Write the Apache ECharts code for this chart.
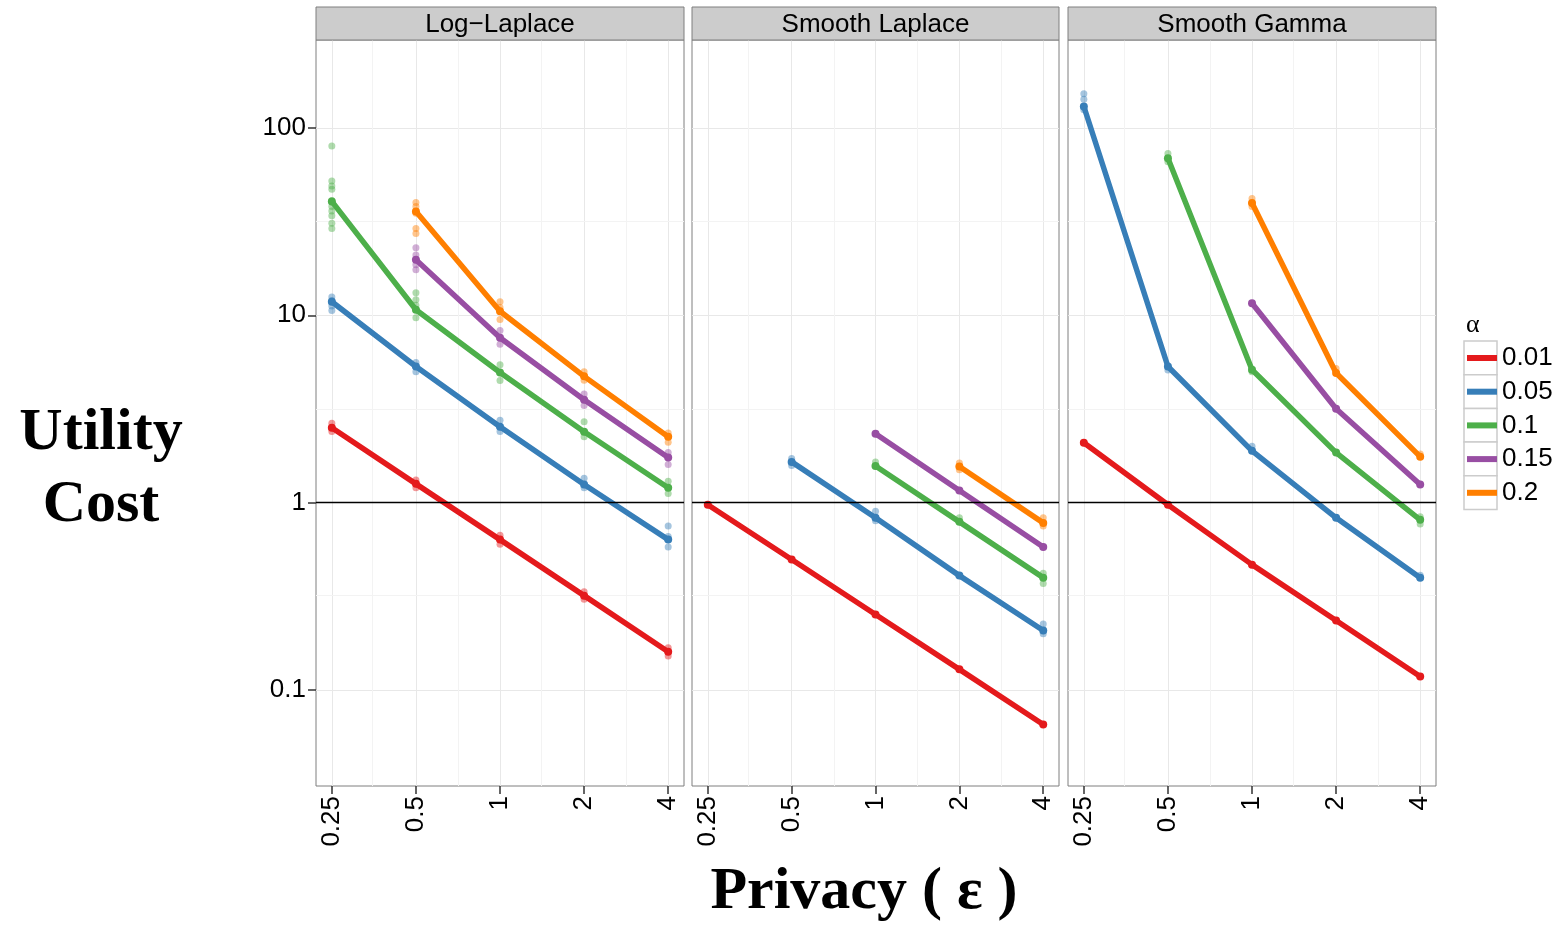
<!DOCTYPE html>
<html>
<head>
<meta charset="utf-8">
<script src="https://cdn.jsdelivr.net/npm/echarts@6/dist/echarts.min.js"></script>
<style>html,body{margin:0;padding:0;background:#fff}#c{width:1564px;height:925px}</style>
</head>
<body>
<div id="c"></div>
<script>
// ---------- data ----------
const epsilons = [0.25, 0.5, 1, 2, 4];
const alphas = ['0.01', '0.05', '0.1', '0.15', '0.2'];
const facets = ['Log\u2212Laplace', 'Smooth Laplace', 'Smooth Gamma'];
const yTicks = [0.1, 1, 10, 100];
const yMinor = [0.0316, 0.316, 3.16, 31.6];
const xMinor = [0.354, 0.707, 1.414, 2.828];

// Log-Laplace (mean utility cost per epsilon)
const logLaplace_a001 = [2.51, 1.26, 0.635, 0.319, 0.160];
const logLaplace_a005 = [11.8, 5.33, 2.54, 1.25, 0.635];
const logLaplace_a01  = [40.5, 10.7, 4.95, 2.39, 1.20];
const logLaplace_a015 = [null, 19.8, 7.59, 3.54, 1.74];
const logLaplace_a02  = [null, 35.8, 10.5, 4.72, 2.25];
// Smooth Laplace
const smoothLaplace_a001 = [0.975, 0.497, 0.253, 0.129, 0.0655];
const smoothLaplace_a005 = [null, 1.65, 0.83, 0.408, 0.208];
const smoothLaplace_a01  = [null, null, 1.57, 0.79, 0.398];
const smoothLaplace_a015 = [null, null, 2.33, 1.16, 0.58];
const smoothLaplace_a02  = [null, null, null, 1.56, 0.78];
// Smooth Gamma
const smoothGamma_a001 = [2.09, 0.975, 0.467, 0.235, 0.118];
const smoothGamma_a005 = [130, 5.33, 1.89, 0.83, 0.398];
const smoothGamma_a01  = [null, 68.9, 5.12, 1.85, 0.81];
const smoothGamma_a015 = [null, null, 11.6, 3.17, 1.25];
const smoothGamma_a02  = [null, null, 39.7, 4.92, 1.76];

// individual runs (scatter, semi-transparent) [epsilon, cost]
const runsLogLaplace_a005 = [[0.25,12.5],[0.25,12.0],[0.25,11.2],[0.25,10.6],[0.5,5.6],[0.5,5.0],[1,2.75],[1,2.4],[2,1.35],[2,1.2],[4,0.75],[4,0.66],[4,0.58]];
const runsLogLaplace_a01  = [[0.25,80],[0.25,52],[0.25,49],[0.25,47],[0.25,41],[0.25,38],[0.25,36],[0.25,34],[0.25,31],[0.25,29],[0.5,13.2],[0.5,12.1],[0.5,11.3],[0.5,9.7],[1,5.45],[1,4.48],[2,2.7],[2,2.25],[4,1.3],[4,1.12]];
const runsLogLaplace_a015 = [[0.5,22.9],[0.5,21],[0.5,18.6],[0.5,17.5],[1,8.3],[1,7.0],[2,3.8],[2,3.3],[4,1.85],[4,1.6]];
const runsLogLaplace_a02  = [[0.5,40],[0.5,38],[0.5,35],[0.5,29],[0.5,27.3],[1,11.8],[1,11.0],[1,9.5],[2,5.0],[2,4.5],[4,2.35],[4,2.1]];
const runsLogLaplace_a001 = [[0.25,2.65],[0.25,2.4],[0.5,1.32],[0.5,1.2],[1,0.67],[1,0.6],[2,0.335],[2,0.305],[4,0.168],[4,0.152]];
const runsSmoothLaplace_a005 = [[0.5,1.72],[0.5,1.58],[1,0.9],[1,0.8],[4,0.225],[4,0.2]];
const runsSmoothLaplace_a02  = [[2,1.63],[2,1.5],[4,0.83],[4,0.75]];
const runsSmoothLaplace_a01  = [[1,1.65],[2,0.83],[4,0.42],[4,0.37]];
const runsSmoothGamma_a005 = [[0.25,152],[0.25,142],[0.25,125],[0.5,5.1],[4,0.41],[1,2.0]];
const runsSmoothGamma_a01  = [[0.5,73],[0.5,66],[1,5.0],[4,0.84],[4,0.77]];
const runsSmoothGamma_a02  = [[1,42],[1,38],[2,5.2],[4,1.82]];

const colors = ['#E41A1C', '#377EB8', '#4DAF4A', '#984EA3', '#FF7F00'];

const lineData = [
  [logLaplace_a001, logLaplace_a005, logLaplace_a01, logLaplace_a015, logLaplace_a02],
  [smoothLaplace_a001, smoothLaplace_a005, smoothLaplace_a01, smoothLaplace_a015, smoothLaplace_a02],
  [smoothGamma_a001, smoothGamma_a005, smoothGamma_a01, smoothGamma_a015, smoothGamma_a02]
];
const runData = [
  [runsLogLaplace_a001, runsLogLaplace_a005, runsLogLaplace_a01, runsLogLaplace_a015, runsLogLaplace_a02],
  [[], runsSmoothLaplace_a005, runsSmoothLaplace_a01, [], runsSmoothLaplace_a02],
  [[], runsSmoothGamma_a005, runsSmoothGamma_a01, [], runsSmoothGamma_a02]
];

// ---------- layout ----------
const panelLeft = [316, 692, 1068];
const panelWidth = [368, 367, 368];
const panelTop = 40, panelHeight = 746;
const SANS = '"Liberation Sans", Arial, sans-serif';
const SERIF = '"Liberation Serif", "Times New Roman", serif';

const grids = [], xAxes = [], yAxes = [], series = [], graphics = [];
facets.forEach((f, i) => {
  grids.push({left: panelLeft[i], top: panelTop, width: panelWidth[i], height: panelHeight,
    show: true, borderColor: '#7F7F7F', borderWidth: 1, backgroundColor: '#fff', containLabel: false});
  xAxes.push({type: 'log', logBase: 2, gridIndex: i, min: 0.2194, max: 4.557,
    axisLine: {show: false},
    axisTick: {show: true, length: 8, lineStyle: {color: '#333', width: 1.5}, customValues: epsilons},
    axisLabel: {rotate: 90, fontSize: 26, color: '#000', margin: 10, fontFamily: SANS,
      customValues: epsilons, formatter: v => String(v)},
    splitLine: {show: true, lineStyle: {color: '#E8E8E8', width: 1}}
  });
  yAxes.push({type: 'log', logBase: 10, gridIndex: i, min: 0.03076, max: 294.4,
    axisLine: {show: false},
    axisTick: {show: i === 0, length: 8, lineStyle: {color: '#333', width: 1.5}, customValues: yTicks},
    axisLabel: {show: i === 0, fontSize: 26, color: '#000', margin: 10, fontFamily: SANS,
      customValues: yTicks, formatter: v => String(v)},
    splitLine: {show: true, lineStyle: {color: '#E8E8E8', width: 1}}
  });
  graphics.push({type: 'rect', shape: {x: panelLeft[i], y: 7, width: panelWidth[i], height: 33},
    style: {fill: '#CCCCCC', stroke: '#7F7F7F', lineWidth: 1}, z: 10});
  graphics.push({type: 'text', x: panelLeft[i] + panelWidth[i] / 2, y: 25,
    style: {text: f, fill: '#000', font: '26px ' + SANS, textAlign: 'center', textVerticalAlign: 'middle'}, z: 11});
});

facets.forEach((f, i) => {
  alphas.forEach((a, k) => {
    const vals = lineData[i][k];
    const pts = [];
    epsilons.forEach((e, j) => { if (vals[j] != null) pts.push([e, vals[j]]); });
    const s = {type: 'line', name: a, xAxisIndex: i, yAxisIndex: i, data: pts,
      symbol: 'circle', symbolSize: 8, showSymbol: true,
      lineStyle: {width: 5.5, color: colors[k]}, itemStyle: {color: colors[k]},
      z: 3, animation: false, silent: true};
    if (k === 0) {
      s.markLine = {silent: true, symbol: 'none', z: 1, animation: false,
        label: {show: false}, lineStyle: {color: '#F3F3F3', width: 1, type: 'solid'},
        data: yMinor.map(v => ({yAxis: v})).concat(xMinor.map(v => ({xAxis: v})))};
    }
    if (k === 1) {
      s.markLine = {silent: true, symbol: 'none', z: 6, animation: false,
        label: {show: false}, lineStyle: {color: '#000', width: 1.3, type: 'solid'},
        data: [{yAxis: 1}]};
    }
    series.push(s);
  });
});
facets.forEach((f, i) => {
  alphas.forEach((a, k) => {
    if (runData[i][k].length) {
      series.push({type: 'scatter', name: a, xAxisIndex: i, yAxisIndex: i, data: runData[i][k],
        symbol: 'circle', symbolSize: 7, itemStyle: {color: colors[k], opacity: 0.45},
        z: 2, animation: false, silent: true});
    }
  });
});

// legend key boxes + title
alphas.forEach((a, k) => {
  graphics.push({type: 'rect', shape: {x: 1464, y: 341 + k * 33.7, width: 33, height: 33.7},
    style: {fill: '#fff', stroke: '#CCCCCC', lineWidth: 1.5}, z: -1});
});
graphics.push({type: 'text', x: 1466, y: 325, style: {text: '\u03b1', fill: '#000',
  font: '26px ' + SERIF, textAlign: 'left', textVerticalAlign: 'middle'}});
// axis titles
graphics.push({type: 'text', x: 101, y: 469, style: {text: 'Utility\nCost', fill: '#000',
  font: 'bold 60px ' + SERIF, lineHeight: 72, textAlign: 'center', textVerticalAlign: 'middle'}});
graphics.push({type: 'text', x: 864, y: 892, style: {text: 'Privacy ( \u03b5 )', fill: '#000',
  font: 'bold 60px ' + SERIF, textAlign: 'center', textVerticalAlign: 'middle'}});

const chart = echarts.init(document.getElementById('c'), null, {renderer: 'canvas'});
chart.setOption({
  animation: false,
  backgroundColor: '#fff',
  grid: grids, xAxis: xAxes, yAxis: yAxes, series: series,
  legend: {data: alphas, orient: 'vertical', left: 1462, top: 340, itemWidth: 30, itemHeight: 6,
    icon: 'rect', itemGap: 7.7, selectedMode: false,
    textStyle: {fontSize: 26, color: '#000', fontFamily: SANS, lineHeight: 26}},
  graphic: graphics
});
</script>
</body>
</html>
